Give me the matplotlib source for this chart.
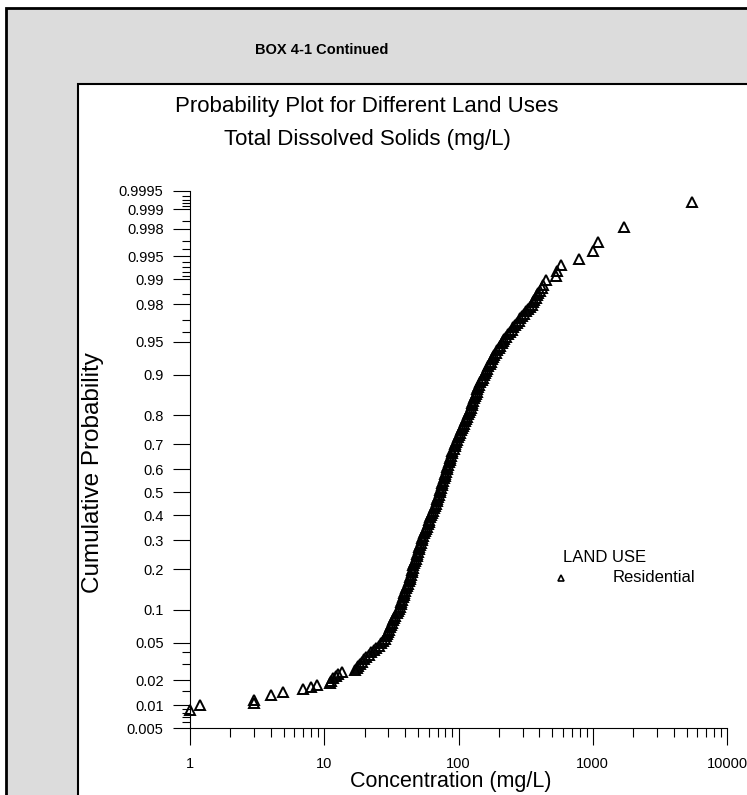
import numpy as np
import matplotlib
matplotlib.use("Agg")
import matplotlib.pyplot as plt
from matplotlib.patches import Rectangle
from matplotlib.lines import Line2D
from statistics import NormalDist

plt.rcParams['font.family'] = ['Liberation Sans', 'DejaVu Sans']

# Residential TDS samples: concentration (mg/L) and cumulative probability
# lower tail (scattered points)
conc_low = [1.0, 1.19, 3.0, 3.0, 4.0, 4.9, 6.9, 7.9, 8.9, 11.0, 11.3, 11.6, 12.2, 12.6,
            13.6, 16.9, 17.4]
prob_low = [0.0087, 0.0101, 0.0106, 0.0116, 0.0134, 0.0146, 0.0158, 0.0165, 0.0176, 0.0187,
            0.0198, 0.0210, 0.0222, 0.0234, 0.0250, 0.0262, 0.0275]

# dense body of the curve
conc_body = [
    17.8, 18.4, 19.1, 19.8, 20.5, 21.4, 22.3, 23.3, 24.3, 25.4, 26.5, 27.5, 28.4, 28.9, 29.3,
    29.8, 30.4, 30.9, 31.4, 31.9, 32.5, 33.2, 33.9, 34.6, 35.4, 36.0, 36.7, 37.1, 37.6, 38.1,
    38.6, 39.1, 39.6, 40.1, 40.6, 41.3, 42.1, 42.6, 43.2, 43.7, 44.3, 44.8, 45.4, 45.8, 46.2,
    46.8, 47.4, 48.0, 48.7, 49.3, 49.9, 50.5, 51.2, 51.9, 52.6, 53.2, 53.9, 54.6, 55.3, 56.3,
    57.3, 58.3, 59.3, 60.0, 60.8, 61.6, 62.4, 63.5, 64.6, 65.7, 66.8, 67.7, 68.6, 69.5, 70.4,
    71.3, 72.2, 73.1, 74.1, 75.0, 76.0, 77.0, 78.0, 79.0, 80.0, 80.7, 81.4, 82.4, 83.5, 84.6,
    85.7, 86.8, 87.9, 89.0, 90.2, 91.8, 93.4, 94.6, 95.8, 97.5, 99.2, 100.9, 102.6, 104.4,
    106.2, 108.0, 109.9, 111.8, 113.7, 115.7, 117.7, 119.7, 121.8, 123.4, 125.0, 126.6, 128.2,
    129.9, 131.6, 133.9, 136.2, 138.5, 140.9, 143.3, 145.8, 148.4, 151.0, 153.6, 156.2, 159.6,
    163.1, 166.6, 170.2, 173.9, 177.7, 181.5, 185.4, 189.4, 193.5, 198.6, 203.8, 209.1, 214.5,
    220.1, 225.9, 233.8, 241.9, 249.3, 256.8, 264.7, 272.8, 280.0, 287.2, 297.3, 307.6, 318.5,
    329.5, 339.7, 349.9, 357.5, 365.2, 374.8, 384.4, 392.8, 401.3,
]
prob_body = [
    0.0287, 0.0304, 0.0322, 0.0340, 0.0359, 0.0380, 0.0401, 0.0423, 0.0446, 0.0470, 0.0495,
    0.0521, 0.0548, 0.0576, 0.0606, 0.0636, 0.0668, 0.0701, 0.0735, 0.0771, 0.0808, 0.0846,
    0.0885, 0.0926, 0.0968, 0.1011, 0.1056, 0.1103, 0.1151, 0.1200, 0.1251, 0.1303, 0.1357,
    0.1412, 0.1469, 0.1527, 0.1587, 0.1648, 0.1711, 0.1775, 0.1841, 0.1908, 0.1977, 0.2047,
    0.2119, 0.2192, 0.2266, 0.2342, 0.2420, 0.2498, 0.2578, 0.2660, 0.2743, 0.2827, 0.2912,
    0.2998, 0.3085, 0.3174, 0.3264, 0.3354, 0.3446, 0.3538, 0.3632, 0.3726, 0.3821, 0.3917,
    0.4013, 0.4110, 0.4207, 0.4305, 0.4404, 0.4503, 0.4602, 0.4701, 0.4801, 0.4900, 0.5000,
    0.5100, 0.5199, 0.5299, 0.5398, 0.5497, 0.5596, 0.5695, 0.5793, 0.5890, 0.5987, 0.6083,
    0.6179, 0.6274, 0.6368, 0.6462, 0.6554, 0.6646, 0.6736, 0.6826, 0.6915, 0.7002, 0.7088,
    0.7173, 0.7257, 0.7340, 0.7422, 0.7502, 0.7580, 0.7658, 0.7734, 0.7808, 0.7881, 0.7953,
    0.8023, 0.8092, 0.8159, 0.8225, 0.8289, 0.8352, 0.8413, 0.8473, 0.8531, 0.8588, 0.8643,
    0.8697, 0.8749, 0.8800, 0.8849, 0.8897, 0.8944, 0.8989, 0.9032, 0.9074, 0.9115, 0.9154,
    0.9192, 0.9229, 0.9265, 0.9299, 0.9332, 0.9364, 0.9394, 0.9424, 0.9452, 0.9479, 0.9505,
    0.9530, 0.9554, 0.9577, 0.9599, 0.9620, 0.9641, 0.9660, 0.9678, 0.9696, 0.9713, 0.9729,
    0.9744, 0.9759, 0.9772, 0.9786, 0.9798, 0.9810, 0.9821, 0.9832, 0.9842, 0.9852, 0.9861,
]

# upper tail (scattered points)
conc_high = [418, 426, 449, 532, 542, 581, 790, 1004, 1094, 1709, 5490]
prob_high = [0.9872, 0.9883, 0.9898, 0.9910, 0.9922, 0.9935, 0.9946, 0.9958, 0.9969,
             0.9981, 0.99925]

prob_ticks = [0.005, 0.01, 0.02, 0.05, 0.1, 0.2, 0.3, 0.4, 0.5, 0.6, 0.7, 0.8, 0.9,
              0.95, 0.98, 0.99, 0.995, 0.998, 0.999, 0.9995]
prob_labels = ['0.005', '0.01', '0.02', '0.05', '0.1', '0.2', '0.3', '0.4', '0.5', '0.6',
               '0.7', '0.8', '0.9', '0.95', '0.98', '0.99', '0.995', '0.998', '0.999', '0.9995']
prob_minor = [0.006, 0.007, 0.008, 0.009, 0.015, 0.03, 0.04, 0.96, 0.97, 0.985,
              0.991, 0.992, 0.993, 0.994, 0.996, 0.997, 0.9985, 0.9991, 0.9992, 0.9993, 0.9994]
conc_ticks = [1, 10, 100, 1000, 10000]
conc_labels = ['1', '10', '100', '1000', '10000']

W, H = 747, 795
nd = NormalDist()
to_z = np.vectorize(lambda p: nd.inv_cdf(min(max(p, 1e-9), 1 - 1e-9)), otypes=[float])
to_p = np.vectorize(nd.cdf, otypes=[float])


def fx(x):
    return x / W


def fy(y):
    return 1 - y / H


fig = plt.figure(figsize=(W / 100, H / 100), dpi=100)

# grey box and white panel
fig.patches.append(Rectangle((fx(6), -0.1), 1.2, fy(8) + 0.1, transform=fig.transFigure,
                             facecolor='#dcdcdc', edgecolor='black', lw=2, zorder=-3))
fig.patches.append(Rectangle((fx(78), -0.1), 1.2, fy(84) + 0.1, transform=fig.transFigure,
                             facecolor='white', edgecolor='black', lw=1.5, zorder=-2))

fig.text(fx(322), fy(50), 'BOX 4-1 Continued', ha='center', va='center',
         fontsize=10.5, fontweight='bold')
fig.text(fx(367), fy(112), 'Probability Plot for Different Land Uses', ha='center',
         va='baseline', fontsize=16)
fig.text(fx(367), fy(145), 'Total Dissolved Solids (mg/L)', ha='center',
         va='baseline', fontsize=16)

ax = fig.add_axes([fx(190), fy(728), fx(727) - fx(190), fy(191) - fy(728)])
ax.set_facecolor('none')
ax.set_zorder(1)
ax.set_xscale('log')
ax.set_yscale('function', functions=(to_z, to_p))
ax.set_xlim(1, 10000)
ax.set_ylim(0.005, 0.9995)

concentration = conc_low + conc_body + conc_high
probability = prob_low + prob_body + prob_high
ax.plot(concentration, probability, ls='none', marker='^', ms=7, mfc='none',
        mec='black', mew=1.4, clip_on=False)

ax.set_yticks(prob_ticks)
ax.set_yticklabels(prob_labels)
ax.set_yticks(prob_minor, minor=True)
ax.set_xticks(conc_ticks)
ax.set_xticklabels(conc_labels)
ax.tick_params(axis='y', which='major', length=12, width=0.8, pad=7, labelsize=10.5)
ax.tick_params(axis='y', which='minor', length=6, width=0.8)
ax.tick_params(axis='x', which='major', length=12, width=0.8, pad=9, labelsize=10.5)
ax.tick_params(axis='x', which='minor', length=6.5, width=0.8)
for s in ['top', 'right']:
    ax.spines[s].set_visible(False)
for s in ['left', 'bottom']:
    ax.spines[s].set_linewidth(0.8)

fig.text(fx(93), fy(473), 'Cumulative Probability', rotation=90, ha='center',
         va='center', fontsize=17.5)
fig.text(fx(451), fy(782), 'Concentration (mg/L)', ha='center', va='center',
         fontsize=15.5)

# legend
fig.text(fx(563), fy(557), 'LAND USE', ha='left', va='center', fontsize=12)
fig.text(fx(613), fy(578), 'Residential', ha='left', va='center', fontsize=12)
fig.add_artist(Line2D([fx(561)], [fy(578)], transform=fig.transFigure, ls='none',
                      marker='^', ms=5, mfc='none', mec='black', mew=1.2))

fig.savefig('out.png', dpi=100)
